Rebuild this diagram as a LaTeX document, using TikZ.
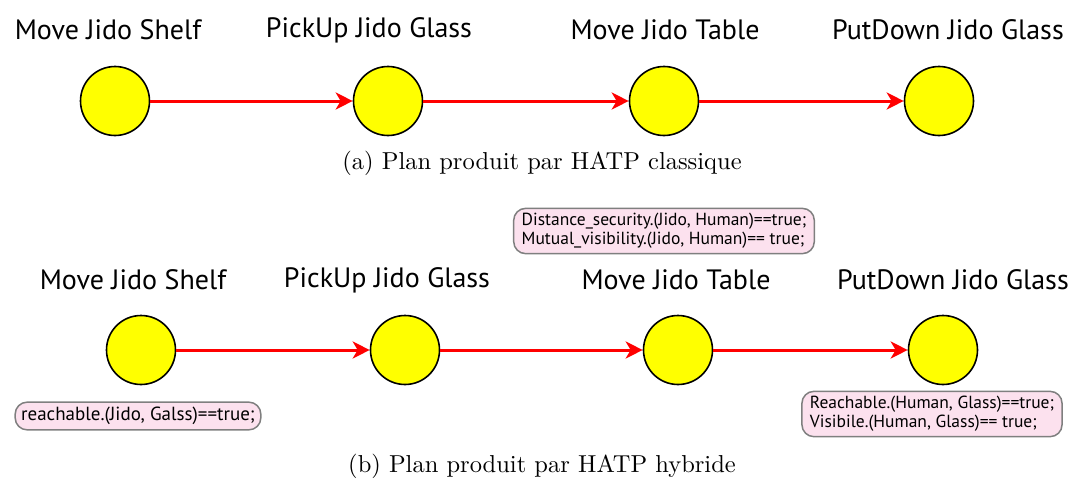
\documentclass[tikz,border=0pt]{standalone}
\usepackage{fontspec}
\newfontfamily\lab{PT Sans}
\usetikzlibrary{arrows.meta}
\definecolor{boxpink}{HTML}{FCE1EE}
\definecolor{boxgray}{HTML}{7F7F7F}
\definecolor{actyellow}{HTML}{FFFF00}
\newcommand{\capbox}[1]{\scalebox{2.45}{\fontsize{10}{12}\selectfont #1}}
\begin{document}
\begin{tikzpicture}[x=1pt,y=-1pt,
  act/.style={circle,draw=black,line width=1.6pt,fill=actyellow,minimum size=69pt,inner sep=0pt},
  ttl/.style={font=\lab\fontsize{28}{30}\selectfont,inner sep=0pt},
  link/.style={draw=red,line width=3pt,-{Stealth[length=17pt,width=17pt,inset=5pt]}},
  cond/.style={draw=boxgray,line width=1.5pt,fill=boxpink,rounded corners=12pt,align=left,font=\lab\fontsize{17.5}{19}\selectfont,inner xsep=8pt,inner ysep=5pt},
  captext/.style={inner sep=0pt}]
\useasboundingbox (0,0) rectangle (1072,479);
% (a)
\node[ttl] (t1) at (108,30) {Move Jido Shelf};
\node[ttl] (t2) at (369,30) {PickUp Jido Glass};
\node[ttl] (t3) at (665,30) {Move Jido Table};
\node[ttl] (t4) at (948,30) {PutDown Jido Glass};
\node[act] (a1) at (115,101) {};
\node[act] (a2) at (388,101) {};
\node[act] (a3) at (664,101) {};
\node[act] (a4) at (939,101) {};
\draw[link] (a1) -- (a2);
\draw[link] (a2) -- (a3);
\draw[link] (a3) -- (a4);
\node[captext] (ca) at (542,163) {\capbox{(a) Plan produit par HATP classique}};
% (b)
\node[cond] (c1) at (664,231) {Distance\_security.(Jido, Human)==true;\\Mutual\_visibility.(Jido, Human)== true;};
\node[ttl] (u1) at (133,280) {Move Jido Shelf};
\node[ttl] (u2) at (387,280) {PickUp Jido Glass};
\node[ttl] (u3) at (676,280) {Move Jido Table};
\node[ttl] (u4) at (953,280) {PutDown Jido Glass};
\node[act] (b1) at (141,350) {};
\node[act] (b2) at (405,350) {};
\node[act] (b3) at (678,350) {};
\node[act] (b4) at (943,350) {};
\draw[link] (b1) -- (b2);
\draw[link] (b2) -- (b3);
\draw[link] (b3) -- (b4);
\node[cond,font=\lab\fontsize{19}{21}\selectfont,inner xsep=6pt] (c2) at (138,416) {reachable.(Jido, Galss)==true;};
\node[cond] (c3) at (932,414) {Reachable.(Human, Glass)==true;\\Visibile.(Human, Glass)== true;};
\node[captext] (cb) at (542,466) {\capbox{(b) Plan produit par HATP hybride}};
\end{tikzpicture}
\end{document}
